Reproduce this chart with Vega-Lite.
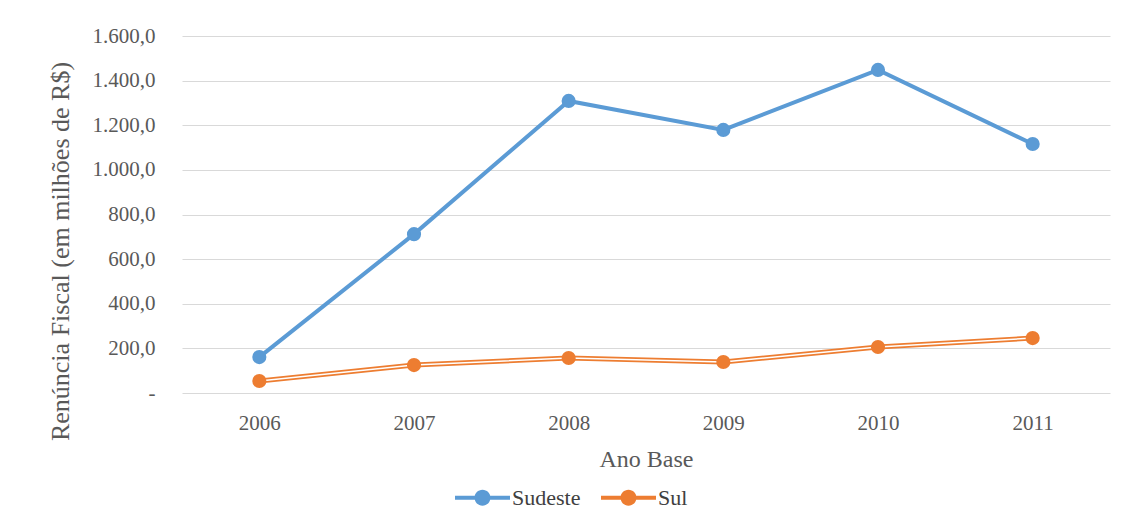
{
  "$schema": "https://vega.github.io/schema/vega-lite/v6.json",
  "width": 928,
  "height": 357,
  "autosize": "none",
  "padding": {"left": 182, "top": 36, "right": 24, "bottom": 137},
  "background": "white",
  "config": {
    "locale": {"number": {"decimal": ",", "thousands": ".", "grouping": [3], "currency": ["R$", ""]}},
    "view": {"stroke": null},
    "font": "Liberation Serif",
    "legend": {"labelFont": "Liberation Serif, serif"}
  },
  "data": {
    "values": [
      {"ano": "2006", "regiao": "Sudeste", "valor": 161},
      {"ano": "2007", "regiao": "Sudeste", "valor": 712},
      {"ano": "2008", "regiao": "Sudeste", "valor": 1309},
      {"ano": "2009", "regiao": "Sudeste", "valor": 1179},
      {"ano": "2010", "regiao": "Sudeste", "valor": 1448},
      {"ano": "2011", "regiao": "Sudeste", "valor": 1116},
      {"ano": "2006", "regiao": "Sul", "valor": 54},
      {"ano": "2007", "regiao": "Sul", "valor": 125},
      {"ano": "2008", "regiao": "Sul", "valor": 157},
      {"ano": "2009", "regiao": "Sul", "valor": 139},
      {"ano": "2010", "regiao": "Sul", "valor": 206},
      {"ano": "2011", "regiao": "Sul", "valor": 246}
    ]
  },
  "encoding": {
    "x": {
      "field": "ano", "type": "ordinal",
      "scale": {"type": "point", "padding": 0.5},
      "axis": {
        "title": "Ano Base", "labelAngle": 0, "ticks": false, "domain": false,
        "labelFont": "Liberation Serif", "labelFontSize": 21, "labelColor": "#595959", "labelPadding": 19,
        "titleFont": "Liberation Serif", "titleFontSize": 24, "titleFontWeight": "normal", "titleColor": "#595959", "titlePadding": 14
      }
    },
    "y": {
      "field": "valor", "type": "quantitative",
      "scale": {"domain": [0, 1600]},
      "axis": {
        "title": "Renúncia Fiscal (em milhões de R$)", "values": [0,200,400,600,800,1000,1200,1400,1600],
        "format": ",.1f", "labelExpr": "datum.value == 0 ? '-' : datum.label", "labelOverlap": false,
        "ticks": false, "domain": false, "gridColor": "#d9d9d9", "gridWidth": 1.2,
        "labelFont": "Liberation Serif", "labelFontSize": 21, "labelColor": "#595959", "labelPadding": 27,
        "titleFont": "Liberation Serif", "titleFontSize": 26, "titleFontWeight": "normal", "titleColor": "#595959",
        "titleX": -122, "titleY": 215, "titleBaseline": "middle"
      }
    },
    "color": {
      "field": "regiao", "type": "nominal",
      "scale": {"domain": ["Sudeste", "Sul"], "range": ["#5b9bd5", "#ed7d31"]},
      "legend": {
        "title": null, "orient": "none", "direction": "horizontal", "legendX": 273, "legendY": 434,
        "symbolType": "M -1 -0.07 H 1 V 0.07 H -1 Z M 0.29 0 A 0.29 0.29 0 1 1 -0.29 0 A 0.29 0.29 0 1 1 0.29 0 Z",
        "symbolSize": 3025, "symbolStrokeWidth": 0, "symbolOpacity": 1,
        "labelFont": "Liberation Serif, serif", "labelFontSize": 22, "labelColor": "#404040",
        "columnPadding": 20, "labelOffset": 2,
        "encode": {
          "symbols": {"update": {"fill": {"scale": "color", "field": "value"}, "fillOpacity": {"value": 1}, "strokeWidth": {"value": 0}}}
        }
      }
    }
  },
  "layer": [
    {"transform": [{"filter": "datum.regiao == 'Sudeste'"}], "mark": {"type": "line", "strokeWidth": 4}},
    {"transform": [{"filter": "datum.regiao == 'Sul'"}], "mark": {"type": "line", "strokeWidth": 5}},
    {"transform": [{"filter": "datum.regiao == 'Sul'"}], "mark": {"type": "line", "strokeWidth": 1.5, "color": "white"}, "encoding": {"color": {"value": "white"}, "detail": {"field": "regiao"}}},
    {"mark": {"type": "point", "filled": true, "size": 200, "opacity": 1}}
  ]
}
